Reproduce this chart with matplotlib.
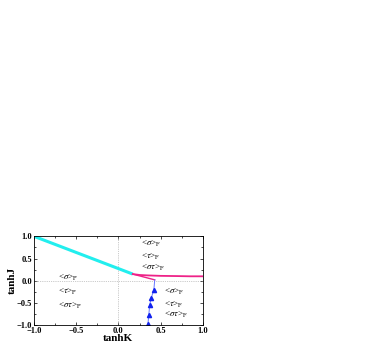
"""
Phase diagram in the (tanhK, tanhJ) plane.
Output: out.png
"""

import matplotlib.pyplot as plt
from matplotlib.ticker import MultipleLocator

# ------------------------------------------------------------------
# data
# ------------------------------------------------------------------
cyan_k = [-1.0, 0.17]
cyan_j = [1.0, 0.15]

upper_k = [0.17, 0.25, 0.35, 0.5, 0.7, 0.85, 1.0]
upper_j = [0.15, 0.13, 0.12, 0.11, 0.105, 0.10, 0.10]

branch_k = [0.17, 0.43]
branch_j = [0.15, 0.02]

tri_k = [0.43, 0.42, 0.39, 0.37, 0.36, 0.35]
tri_j = [0.02, -0.2, -0.38, -0.55, -0.77, -0.97]

labels_p = [r"<$\sigma$>$_{\rm P}$", r"<$\tau$>$_{\rm P}$", r"<$\sigma\tau$>$_{\rm P}$"]
labels_f = [r"<$\sigma$>$_{\rm F}$", r"<$\tau$>$_{\rm F}$", r"<$\sigma\tau$>$_{\rm F}$"]
pos_p = [(-0.72, 0.06), (-0.72, -0.24), (-0.72, -0.56)]
pos_f_up = [(0.27, 0.84), (0.27, 0.54), (0.27, 0.29)]
pos_f_lo = [(0.54, -0.25), (0.54, -0.55), (0.54, -0.78)]


def main():
    plt.rcParams["font.family"] = ["Liberation Serif", "DejaVu Serif"]
    plt.rcParams["mathtext.fontset"] = "stix"

    fig = plt.figure(figsize=(3.82, 3.43), dpi=100)
    ax = fig.add_axes([0.089, 0.052, 0.442, 0.259])

    ax.axhline(0, color="#999999", lw=0.5, ls=":")
    ax.axvline(0, color="#999999", lw=0.5, ls=":")

    ax.plot(cyan_k, cyan_j, color="#22eeee", lw=2.2, solid_capstyle="butt")
    ax.plot(upper_k, upper_j, color="#ee2288", lw=1.3)
    ax.plot(branch_k, branch_j, color="#ee2288", lw=1.0)
    ax.plot(tri_k, tri_j, color="#6677ff", lw=0.7)
    ax.plot(tri_k[1:], tri_j[1:], ls="none", marker="^", ms=3.0,
            color="#1122ee")

    for txt, (x, y) in zip(labels_p, pos_p):
        ax.text(x, y, txt, fontsize=6.5, ha="left", va="center")
    for txt, (x, y) in zip(labels_f, pos_f_up):
        ax.text(x, y, txt, fontsize=6.5, ha="left", va="center")
    for txt, (x, y) in zip(labels_f, pos_f_lo):
        ax.text(x, y, txt, fontsize=6.5, ha="left", va="center")

    ax.set_xlim(-1, 1)
    ax.set_ylim(-1, 1)
    ax.xaxis.set_major_locator(MultipleLocator(0.5))
    ax.yaxis.set_major_locator(MultipleLocator(0.5))
    ax.yaxis.set_minor_locator(MultipleLocator(0.25))
    ax.xaxis.set_minor_locator(MultipleLocator(0.25))
    ax.tick_params(which="both", direction="in", top=True, right=True,
                   labelsize=6, width=0.5, pad=1.5)
    ax.tick_params(which="major", length=2.5)
    ax.tick_params(which="minor", length=1.5)
    for lab in ax.get_xticklabels() + ax.get_yticklabels():
        lab.set_fontweight("bold")
    for spine in ax.spines.values():
        spine.set_linewidth(0.6)

    ax.set_xlabel("tanhK", fontsize=8, fontweight="bold", labelpad=-1)
    ax.set_ylabel("tanhJ", fontsize=8, fontweight="bold", labelpad=0)

    fig.savefig("out.png", dpi=100)
    plt.close(fig)


if __name__ == "__main__":
    main()
